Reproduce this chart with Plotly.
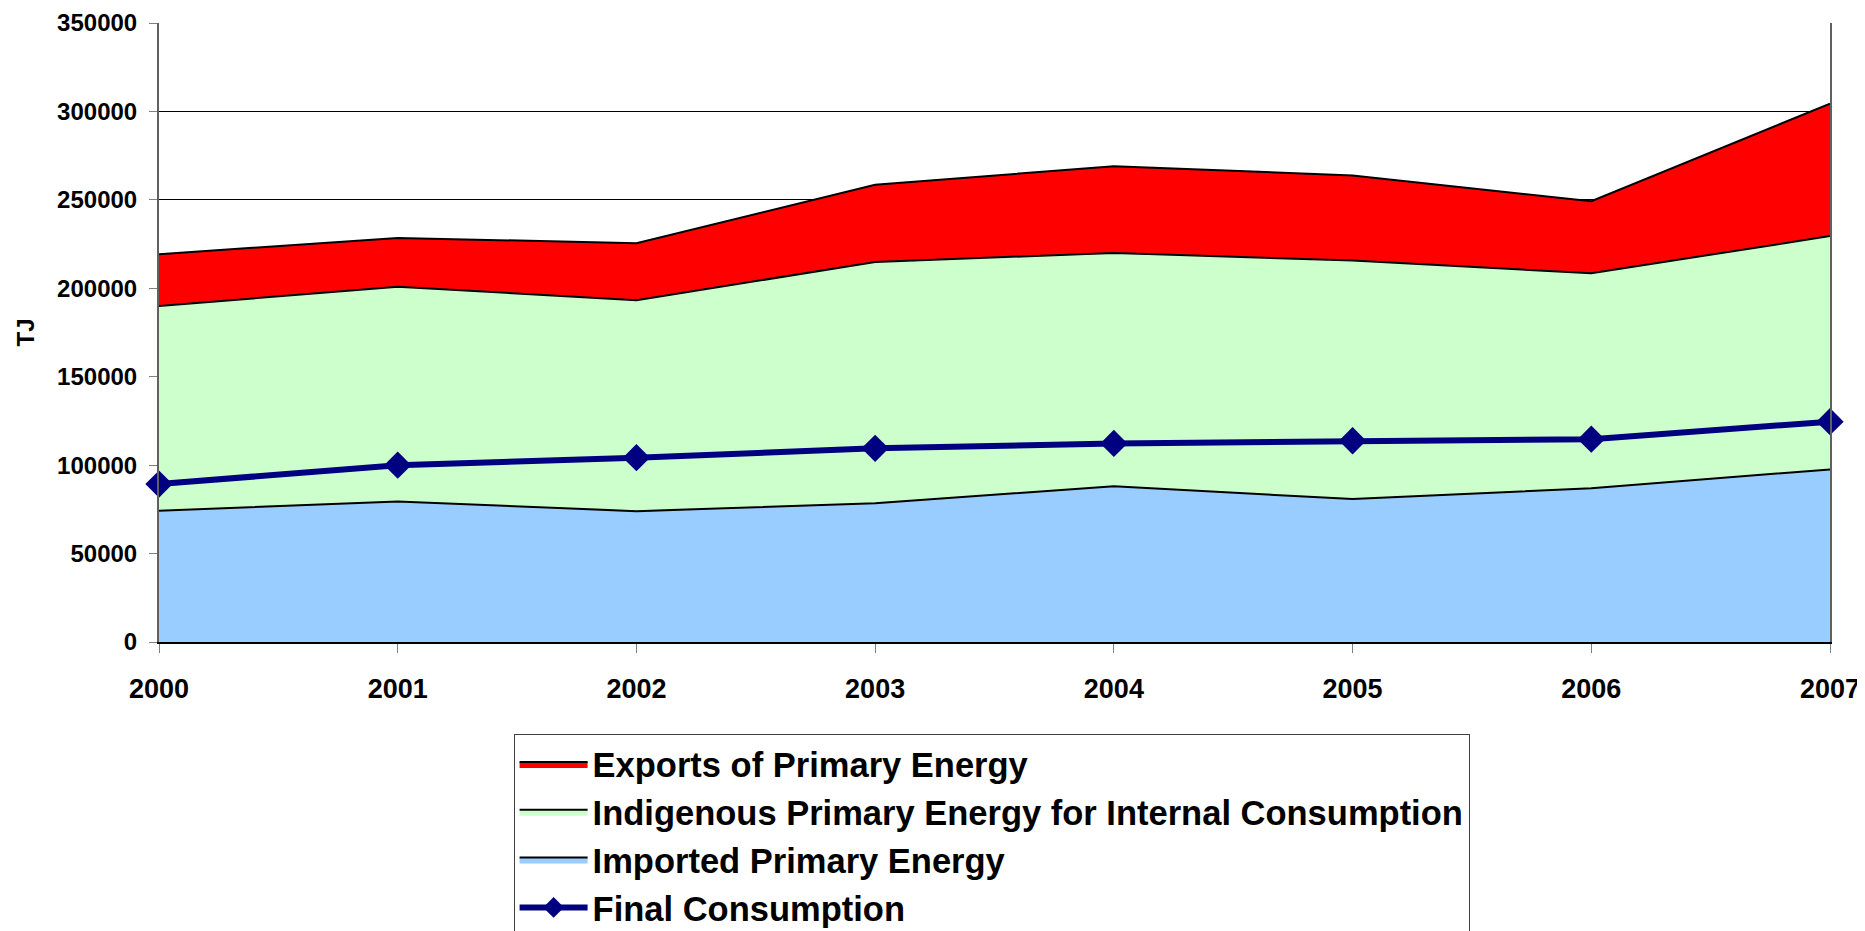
import plotly.graph_objects as go

# Data (TJ)
years = [2000, 2001, 2002, 2003, 2004, 2005, 2006, 2007]
imported = [74200, 79500, 74000, 78500, 88000, 80800, 87000, 97600]
indigenous = [115800, 121300, 119300, 136300, 132000, 134900, 121500, 131900]
exports = [29300, 27700, 32200, 43700, 49000, 48100, 40700, 74900]
final_consumption = [89300, 100000, 104200, 109500, 112300, 113800, 114700, 124600]

y_ticks = [0, 50000, 100000, 150000, 200000, 250000, 300000, 350000]

FONT = "Liberation Sans, Arial, sans-serif"

fig = go.Figure()

# Stacked areas
fig.add_trace(go.Scatter(
    x=years, y=imported, name="Imported Primary Energy",
    mode="lines", stackgroup="energy",
    line=dict(color="black", width=2),
    fillcolor="#99CCFF", legendrank=3, legendgroup="c",
))
fig.add_trace(go.Scatter(
    x=years, y=indigenous, name="Indigenous Primary Energy for Internal Consumption",
    mode="lines", stackgroup="energy",
    line=dict(color="black", width=2),
    fillcolor="#CCFFCC", legendrank=2, legendgroup="b",
))
fig.add_trace(go.Scatter(
    x=years, y=exports, name="Exports of Primary Energy",
    mode="lines", stackgroup="energy",
    line=dict(color="black", width=2),
    fillcolor="#FF0000", legendrank=1, legendgroup="a",
))

# Final consumption line
fig.add_trace(go.Scatter(
    x=years, y=final_consumption, name="Final Consumption",
    mode="lines+markers",
    line=dict(color="#000080", width=6),
    marker=dict(symbol="diamond", size=21, color="#000080"),
    cliponaxis=False, legendrank=4, legendgroup="d",
))

fig.update_xaxes(
    range=[2000, 2007],
    tickvals=years,
    ticks="outside", ticklen=9, tickcolor="#808080", tickwidth=1,
    showline=True, linecolor="black", linewidth=2,
    showgrid=False, zeroline=False,
    ticklabelstandoff=13,
    automargin=False,
    tickfont=dict(family=FONT, size=27, color="black", weight="bold"),
)

fig.update_yaxes(
    range=[0, 350000],
    tickvals=y_ticks,
    tickformat="d",
    ticks="outside", ticklen=8, tickcolor="#808080", tickwidth=1,
    showline=True, linecolor="#606060", linewidth=2, mirror=True,
    showgrid=True, gridcolor="black", gridwidth=1,
    zeroline=False,
    ticklabelstandoff=7,
    automargin=False,
    tickfont=dict(family=FONT, size=24, color="black", weight="bold"),
    title=dict(text="TJ", standoff=16,
               font=dict(family=FONT, size=24, color="black", weight="bold")),
)

# the page body has an 8px margin, so the figure is made 8px smaller
fig.update_layout(
    width=1857, height=923,
    margin=dict(l=151, r=35, t=15, b=289, autoexpand=False),
    plot_bgcolor="white",
    paper_bgcolor="white",
    showlegend=True,
    legend=dict(
        x=0.2122, xanchor="left",
        y=-0.1486, yanchor="top",
        bgcolor="white",
        bordercolor="#404040", borderwidth=1,
        font=dict(family=FONT, size=34.5, color="black", weight="bold"),
        itemwidth=68,
        traceorder="grouped",
        tracegroupgap=0,
    ),
)

fig.write_html("out.html")
